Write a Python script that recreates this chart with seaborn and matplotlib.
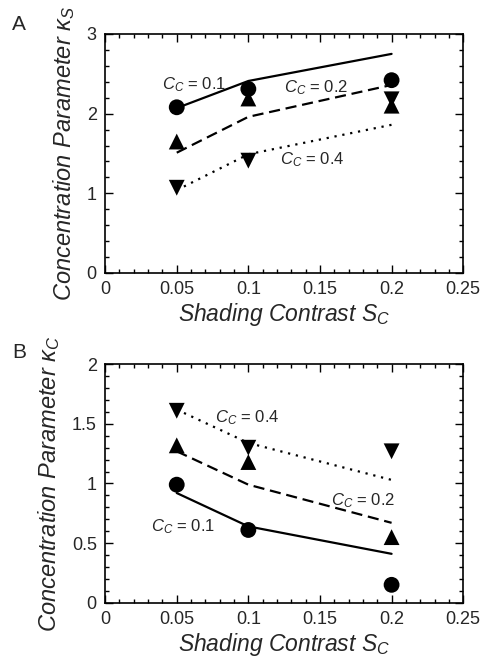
import seaborn as sns
import matplotlib.pyplot as plt
from matplotlib.ticker import MultipleLocator

# shading contrast values (x)
contrast = [0.05, 0.1, 0.2]

# panel A: kappa_S  (model curves and measured points)
a_line_01 = [2.07, 2.41, 2.75]
a_line_02 = [1.51, 1.96, 2.36]
a_line_04 = [1.04, 1.49, 1.86]
a_circle = [2.08, 2.31, 2.42]
a_up = [1.65, 2.19, 2.10]
a_down = [1.07, 1.41, 2.18]

# panel B: kappa_C
b_line_01 = [0.92, 0.64, 0.41]
b_line_02 = [1.27, 0.99, 0.67]
b_line_04 = [1.62, 1.34, 1.03]
b_circle = [0.99, 0.61, 0.15]
b_up = [1.32, 1.18, 0.55]
b_down = [1.61, 1.30, 1.27]

x_ticks = [0, 0.05, 0.1, 0.15, 0.2, 0.25]
x_ticklabels = ['0', '0.05', '0.1', '0.15', '0.2', '0.25']
a_yticks = [0, 1, 2, 3]
a_yticklabels = ['0', '1', '2', '3']
b_yticks = [0, 0.5, 1, 1.5, 2]
b_yticklabels = ['0', '0.5', '1', '1.5', '2']

sns.set_style('ticks')
plt.rcParams['font.family'] = ['Liberation Sans', 'DejaVu Sans']
plt.rcParams['mathtext.fontset'] = 'custom'
plt.rcParams['mathtext.rm'] = 'Liberation Sans'
plt.rcParams['mathtext.it'] = 'Liberation Sans:italic'

fig = plt.figure(figsize=(4.8, 6.61), dpi=100)
ax_a = fig.add_axes([0.219, 0.587, 0.746, 0.3616])
ax_b = fig.add_axes([0.219, 0.0882, 0.746, 0.3607])

dotted = (0, (1, 2.6))
dashed = (0, (5, 2.6))


def draw_panel(ax, lines, circ, up, down, ylim, yticks, yticklabels, yminor,
               ylabel, labels):
    for vals, ls in zip(lines, ['-', dashed, dotted]):
        sns.lineplot(x=contrast, y=vals, ax=ax, color='black', linewidth=1.6,
                     linestyle=ls)
    for vals, mk in zip([circ, up, down], ['o', '^', 'v']):
        sns.scatterplot(x=contrast, y=vals, ax=ax, color='black', marker=mk,
                        s=130, edgecolor='none', zorder=3)
    for (tx, ty, txt) in labels:
        ax.text(tx, ty, txt, fontsize=12, va='center', ha='left')

    ax.set_xlim(0, 0.25)
    ax.set_ylim(*ylim)
    ax.set_xticks(x_ticks, x_ticklabels)
    ax.set_yticks(yticks, yticklabels)
    ax.xaxis.set_minor_locator(MultipleLocator(0.01))
    ax.yaxis.set_minor_locator(MultipleLocator(yminor))
    ax.tick_params(which='both', direction='in', top=True, right=True,
                   labelsize=13, color='black', width=1)
    ax.tick_params(which='major', length=6)
    ax.tick_params(which='minor', length=3)
    ax.tick_params(axis='x', which='major', pad=6)
    ax.tick_params(axis='y', which='major', pad=6)
    for sp in ax.spines.values():
        sp.set_linewidth(1.2)
        sp.set_color('black')
    ax.set_xlabel(r'Shading Contrast $S_C$', fontsize=16.5, fontstyle='italic',
                  labelpad=2)
    ax.set_ylabel(ylabel, fontsize=17, fontstyle='italic', labelpad=7)


draw_panel(ax_a, [a_line_01, a_line_02, a_line_04], a_circle, a_up, a_down,
           (0, 3), a_yticks, a_yticklabels, 0.2,
           r'Concentration Parameter $\kappa_S$',
           [(0.0396, 2.37, r'$C_C$ = 0.1'),
            (0.125, 2.33, r'$C_C$ = 0.2'),
            (0.122, 1.42, r'$C_C$ = 0.4')])

draw_panel(ax_b, [b_line_01, b_line_02, b_line_04], b_circle, b_up, b_down,
           (0, 2), b_yticks, b_yticklabels, 0.1,
           r'Concentration Parameter $\kappa_C$',
           [(0.032, 0.64, r'$C_C$ = 0.1'),
            (0.158, 0.86, r'$C_C$ = 0.2'),
            (0.0768, 1.555, r'$C_C$ = 0.4')])

fig.text(0.025, 0.963, 'A', fontsize=15, va='center')
fig.text(0.025, 0.466, 'B', fontsize=15, va='center')

plt.savefig('out.png', dpi=100)
